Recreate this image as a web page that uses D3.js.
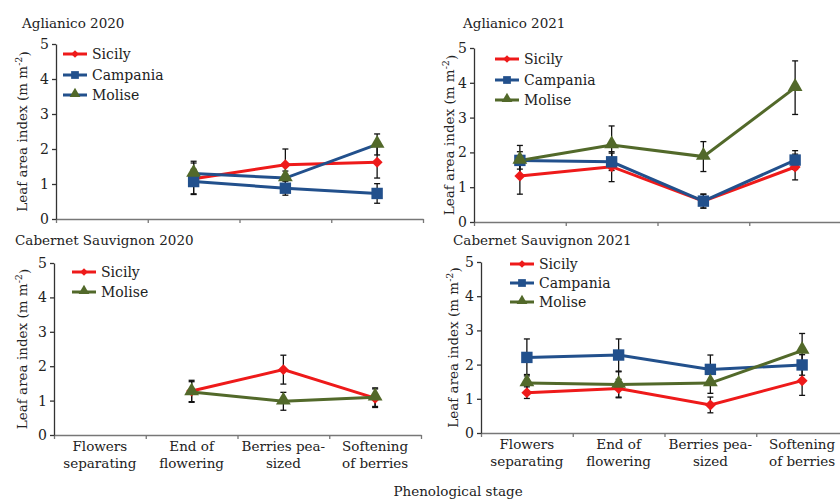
<!DOCTYPE html>
<html>
<head>
<meta charset="utf-8">
<script src="https://cdn.jsdelivr.net/npm/d3@7"></script>
<style>
  body { margin: 0; background: #fff; }
  text { font-family: "DejaVu Serif", "Liberation Serif", serif; fill: #222; }
</style>
</head>
<body>
<script>
var svgWidth = 840;
var svgHeight = 499;

// categories and labels
var stages = ["Flowers separating", "End of flowering", "Berries pea-sized", "Softening of berries"];
var stageLines = [["Flowers", "separating"], ["End of", "flowering"], ["Berries pea-", "sized"], ["Softening", "of berries"]];
var panelTitles = ["Aglianico 2020", "Aglianico 2021", "Cabernet Sauvignon 2020", "Cabernet Sauvignon 2021"];
var yTicks = [0, 1, 2, 3, 4, 5];

// Aglianico 2020
var ag20Sicily = [null, 1.15, 1.55, 1.62];
var ag20SicilyErr = [null, 0.45, 0.45, 0.45];
var ag20Campania = [null, 1.07, 0.88, 0.73];
var ag20CampaniaErr = [null, 0.35, 0.2, 0.28];
var ag20Molise = [null, 1.3, 1.17, 2.13];
var ag20MoliseErr = [null, 0.35, 0.2, 0.3];

// Aglianico 2021
var ag21Sicily = [1.32, 1.59, 0.6, 1.58];
var ag21SicilyErr = [0.52, 0.43, 0.2, 0.37];
var ag21Campania = [1.77, 1.73, 0.6, 1.78];
var ag21CampaniaErr = [0.25, 0.25, 0.2, 0.27];
var ag21Molise = [1.77, 2.21, 1.88, 3.86];
var ag21MoliseErr = [0.43, 0.55, 0.43, 0.77];

// Cabernet Sauvignon 2020
var cs20Sicily = [null, 1.28, 1.9, 1.07];
var cs20SicilyErr = [null, 0.31, 0.42, 0.27];
var cs20Molise = [null, 1.25, 0.98, 1.1];
var cs20MoliseErr = [null, 0.3, 0.26, 0.27];

// Cabernet Sauvignon 2021
var cs21Sicily = [1.18, 1.3, 0.82, 1.53];
var cs21SicilyErr = [0.17, 0.27, 0.23, 0.43];
var cs21Campania = [2.21, 2.28, 1.86, 1.99];
var cs21CampaniaErr = [0.54, 0.47, 0.42, 0.3];
var cs21Molise = [1.46, 1.42, 1.46, 2.41];
var cs21MoliseErr = [0.25, 0.37, 0.3, 0.5];

var red = "#ee1a1a";
var blue = "#22508c";
var green = "#52692a";

var sicilyStyle = { name: "Sicily", color: red, line: red, shape: "diamond" };
var campaniaStyle = { name: "Campania", color: blue, line: blue, shape: "square" };
var moliseStyle = { name: "Molise", color: green, line: green, shape: "triangle" };

function series(style, values, errs, lineColor) {
  return {
    name: style.name, color: style.color, line: lineColor || style.line, shape: style.shape,
    values: values, errs: errs
  };
}

var panels = [
  {
    title: panelTitles[0], x0: 56, x1: 423, yTop: 44, yBot: 219, titleX: 22, titleY: 28, yLabX: 22,
    legX: 63, legY: [54, 75, 95], labels: false,
    series: [series(sicilyStyle, ag20Sicily, ag20SicilyErr),
             series(campaniaStyle, ag20Campania, ag20CampaniaErr),
             series(moliseStyle, ag20Molise, ag20MoliseErr, blue)]
  },
  {
    title: panelTitles[1], x0: 474, x1: 841, yTop: 48, yBot: 222, titleX: 463, titleY: 28, yLabX: 449,
    legX: 495, legY: [59, 80, 100], labels: false,
    series: [series(sicilyStyle, ag21Sicily, ag21SicilyErr),
             series(campaniaStyle, ag21Campania, ag21CampaniaErr),
             series(moliseStyle, ag21Molise, ag21MoliseErr)]
  },
  {
    title: panelTitles[2], x0: 54, x1: 421, yTop: 263, yBot: 435, titleX: 15, titleY: 245, yLabX: 22,
    legX: 72, legY: [272, 292], labels: true,
    series: [series(sicilyStyle, cs20Sicily, cs20SicilyErr),
             series(moliseStyle, cs20Molise, cs20MoliseErr)]
  },
  {
    title: panelTitles[3], x0: 481, x1: 848, yTop: 262, yBot: 433, titleX: 453, titleY: 245, yLabX: 453,
    legX: 510, legY: [264, 283, 302], labels: true,
    series: [series(sicilyStyle, cs21Sicily, cs21SicilyErr),
             series(campaniaStyle, cs21Campania, cs21CampaniaErr),
             series(moliseStyle, cs21Molise, cs21MoliseErr)]
  }
];

var svg = d3.select("body")
  .append("svg")
  .attr("width", svgWidth)
  .attr("height", svgHeight);

function symbolPath(shape, big) {
  if (shape === "square") return d3.symbol(d3.symbolSquare, big ? 130 : 60)();
  if (shape === "triangle") return d3.symbol(d3.symbolTriangle, big ? 95 : 50)();
  return d3.symbol(d3.symbolSquare, big ? 60 : 30)();
}

function drawMarker(g, shape, color, x, y, big) {
  g.append("path")
    .attr("d", symbolPath(shape, big))
    .attr("fill", color)
    .attr("transform", "translate(" + x + "," + (shape === "triangle" ? y - 1 : y) + ")" + (shape === "diamond" ? " rotate(45)" : ""));
}

panels.forEach(function(p) {
  var g = svg.append("g");

  var xBand = d3.scaleBand().domain(stages).range([p.x0, p.x1]);
  var xEdge = d3.scaleLinear().domain([0, 4]).range([p.x0, p.x1]);
  var y = d3.scaleLinear().domain([0, 5]).range([p.yBot, p.yTop]);
  var cx = function(i) { return xBand(stages[i]) + xBand.bandwidth() / 2; };

  // title
  g.append("text")
    .attr("x", p.titleX)
    .attr("y", p.titleY)
    .style("font-size", "13.5px")
    .text(p.title);

  // x axis: ticks at category boundaries
  var xAxis = g.append("g")
    .attr("transform", "translate(0," + p.yBot + ")")
    .call(d3.axisBottom(xEdge).tickValues([0, 1, 2, 3, 4]).tickFormat("").tickSize(4).tickSizeOuter(0));
  xAxis.selectAll("path, line").attr("stroke", "#777").attr("stroke-width", 1.3);

  // y axis
  var yAxis = g.append("g")
    .attr("transform", "translate(" + p.x0 + ",0)")
    .call(d3.axisLeft(y).tickValues(yTicks).tickFormat(d3.format("d")).tickSize(4).tickSizeOuter(0));
  yAxis.selectAll("path, line").attr("stroke", "#333").attr("stroke-width", 1.3);
  yAxis.selectAll("text")
    .style("font-size", "14px")
    .style("font-family", "DejaVu Serif, serif")
    .attr("fill", "#222");

  // y label
  var yl = g.append("text")
    .attr("transform", "translate(" + p.yLabX + "," + ((p.yTop + p.yBot) / 2) + ") rotate(-90)")
    .attr("text-anchor", "middle")
    .attr("dy", "0.35em")
    .style("font-size", "13.5px");
  yl.append("tspan").text("Leaf area index (m m");
  yl.append("tspan").attr("dy", "-0.45em").style("font-size", "9.5px").text("-2");
  yl.append("tspan").attr("dy", "0.45em").text(")");

  // category labels
  if (p.labels) {
    stageLines.forEach(function(lines, i) {
      lines.forEach(function(l, j) {
        g.append("text")
          .attr("x", cx(i))
          .attr("y", p.yBot + 16 + j * 17)
          .attr("text-anchor", "middle")
          .style("font-size", "13.5px")
          .text(l);
      });
    });
  }

  // lines
  p.series.forEach(function(s) {
    var pts = s.values.map(function(v, i) { return { i: i, v: v, e: s.errs[i] }; })
      .filter(function(d) { return d.v !== null; });
    var line = d3.line()
      .x(function(d) { return cx(d.i); })
      .y(function(d) { return y(d.v); });
    g.append("path")
      .attr("d", line(pts))
      .attr("fill", "none")
      .attr("stroke", s.line)
      .attr("stroke-width", 3);
  });

  // error bars
  p.series.forEach(function(s) {
    s.values.forEach(function(v, i) {
      if (v === null) return;
      var e = s.errs[i];
      var x = cx(i);
      g.append("line")
        .attr("x1", x).attr("x2", x)
        .attr("y1", y(v - e)).attr("y2", y(v + e))
        .attr("stroke", "#111").attr("stroke-width", 1.3);
      [v - e, v + e].forEach(function(w) {
        g.append("line")
          .attr("x1", x - 3).attr("x2", x + 3)
          .attr("y1", y(w)).attr("y2", y(w))
          .attr("stroke", "#111").attr("stroke-width", 1.3);
      });
    });
  });

  // markers
  p.series.forEach(function(s) {
    s.values.forEach(function(v, i) {
      if (v === null) return;
      drawMarker(g, s.shape, s.color, cx(i), y(v), true);
    });
  });

  // legend
  p.series.forEach(function(s, k) {
    var ly = p.legY[k];
    g.append("line")
      .attr("x1", p.legX).attr("x2", p.legX + 24)
      .attr("y1", ly).attr("y2", ly)
      .attr("stroke", s.line).attr("stroke-width", 3);
    drawMarker(g, s.shape, s.color, p.legX + 12, ly, false);
    g.append("text")
      .attr("x", p.legX + 29)
      .attr("y", ly)
      .attr("dy", "0.35em")
      .style("font-size", "14px")
      .text(s.name);
  });
});

svg.append("text")
  .attr("x", 458)
  .attr("y", 496)
  .attr("text-anchor", "middle")
  .style("font-size", "13.5px")
  .text("Phenological stage");
</script>
</body>
</html>
